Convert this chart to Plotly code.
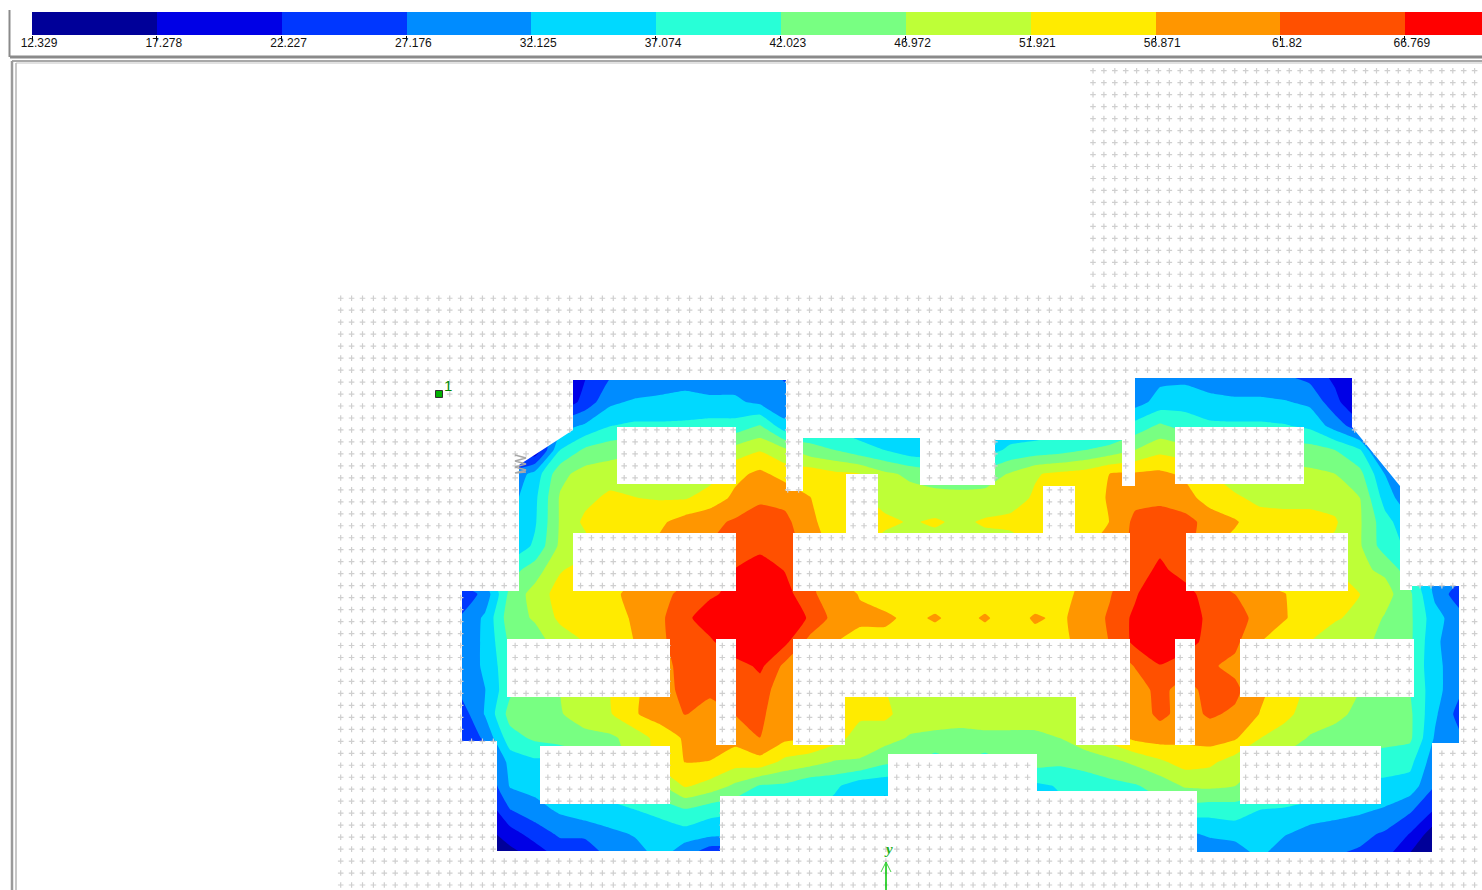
import numpy as np
import plotly.graph_objects as go

# legend levels (band boundaries) and printed tick labels
levels = [12.329, 17.278, 22.227, 27.176, 32.125, 37.074, 42.023, 46.972, 51.921, 56.871, 61.82, 66.769, 71.718]
tick_labels = ["12.329", "17.278", "22.227", "27.176", "32.125", "37.074", "42.023", "46.972", "51.921", "56.871", "61.82", "66.769"]
band_colors = ["#000099", "#0000E6", "#0037FF", "#008CFF", "#00D9FF", "#28FFD7",
               "#78FF82", "#BEFF37", "#FFEB00", "#FF9600", "#FF5000", "#FF0000"]
band_mid = [14.8, 19.75, 24.7, 29.65, 34.6, 39.55, 44.5, 49.45, 54.4, 59.35, 64.3, 69.2]

# sampling stations of the contour field (model coordinates)
xs = [460, 485, 510, 535, 560, 585, 610, 635, 660, 685, 710, 735, 760, 785, 810, 835, 860, 885, 910, 935, 960,
      985, 1010, 1035, 1060, 1085, 1110, 1135, 1160, 1185, 1210, 1235, 1260, 1285, 1310, 1335, 1360, 1385, 1410, 1435, 1460]
ys = [378, 402, 426, 450, 474, 498, 522, 546, 570, 594, 618, 642, 666, 690, 714, 738, 762, 786, 810, 834, 858]

r378 = [20,20,20,20,20,22,27,27,30,30,30,30,28,27,30,32,33,33,33,33,33,34,34,34,33,32,31,29,31,31,29,29,29,28,26,21,18,18,18,18,18]
r402 = [20,20,20,20,18,24,31,33,33,34,33,33,31,28,33,33,34,34,34,34,34,34,34,34,34,33,32,30,34,35,34,33,33,32.5,31,24,16,16,16,16,16]
r426 = [22,22,22,22,30,33,37,38,38,38,39,39,42.5,34,37,36,34,34,34,34,34,34,34,34,35,35,35,39,43,40,38,38,38,37.5,36,30,24,22,20,20,20]
r450 = [22,22,22,18,37,43,45,46,46,47,47,49,51.5,48,44,42,39,37,34,33.5,33.5,35,38,39,40,42,44,47,50.5,49,46,45,45,44.5,44,42,37.5,22,22,20,20]
r474 = [22,24,28,34,45.5,49,49.5,50,50,50,50,55.5,58,55,55,53,52,48,46,44,43,44,47.5,51.5,53,54,57,57.5,58,56,52,50,49,48.5,48,47,43.5,32,25,20,20]
r498 = [24,26,30,36,47.5,50.5,53,52,51.5,51.5,54,58,61,60.5,57,54,53,50,49,49,49,49,50,52.5,53.5,54,57.5,60.5,60.5,59,54.5,52.5,51,51,51,50,47,35,28,22,22]
r522 = [26,28,31,36.5,47.5,53,55,55.5,56,59,60.5,62.5,64,63,58.5,53,52,53,51.5,52.5,51,52.5,53,52,53.5,54,57,63,64.5,63.5,60,57.5,53.5,53,53,52.5,47.5,39,33,25,25]
r546 = [28,30,33,38,48,50,56,56,58,60,62,63.5,65,64,60,55,53,50,50,50,50,50,50,52,54,56,59,63,65.5,64,58,55,53,53,52.5,51,47.5,39.5,36,28,28]
r570 = [34,36,40,44.5,51.5,54,56,56,58,60,62,67,70,66.5,62,56,54,54,54,54,54,54,54,54,55,57,60,64,68,64.5,60,57,54,54,53,52,48,46,39,30,30]
r594 = [23,29,43.5,49,54,55,56,58,60.5,63,65.5,69,72,69,62.5,60,56.5,54,54,54,54,54,54,54,55.5,58,61.5,66,72,69,64,61.8,59,57,54,55,52,49,43,31,24]
r618 = [27.5,33,45,47.5,53,55,55,57.5,61,65,71,74,74,71,66,60,58,58,55.5,57.5,55,57.5,54.5,57.5,56,59,62.5,68,74,72,64.5,64,60,57.2,54,52.5,50.5,46.5,43,34,29]
r642 = [28.5,33,43,45,49,52,54,57,61,64,65.5,72,73,68,60,57,55,55,55,54,54,54,54,55,56,58,62,68,71,69,65,63,57,54,52,49,48,46,43,33,29]
r666 = [28.5,33,41,45,47,50,53,56,60,63.5,64,64,68,60.5,58,55,53,52,52,52,52,52,52,53,54,56,59,62,66.5,64,62.5,60.5,56,54,52,50,48,46,41,34,28]
r690 = [28,32,41,44.5,47,50,52,56,60,63,62.5,63,64,59,57,55,54,52,51,51,51,51,51,51,52,54,57,60,63,60,63.5,63,58,54,51,49,47,45,42,34,28]
r714 = [24,32.5,44,46,46.5,50,51.5,56.5,59,62,60.5,62,63,58,55,54,53,53,49.5,49,49,49,49,49,49,50,54,59,63,60,62.5,61,56.7,53,50,48,46,45,43,33,25]
r738 = [23,28,40,43,44.5,45,46,49,54,57.5,58,58.5,61.8,58,57,54,49.5,49,46.5,46,45.5,46,46,46,47,50,54,58,59,58,59,57.5,52,50,46.5,45.5,45,44,43,31.5,28]
r762 = [18,22,34,36,36,40,45,48,54,57,56.8,54,55,50.5,49,46.5,46.5,43,43,39.5,42,39.5,43,44,43,44,45.5,48,51,54,53,49.5,47,45,44,42,40,39,38.5,29,26]
r786 = [18,22,32.5,34,36,38,40,43,46,52.5,50,46,41.5,41,38,38,34,33.5,32,33,34,35,35,36,37.5,39,40.5,41.5,44,47.5,48,47,45,42,40,38,36,36,35,27,25]
r810 = [16,18,27,30,33,35,35.5,37,39,41.5,39,38,38,38,38,35,33,30,36,36,36,36,36,36,36,36,38,39,40,40,39,39.5,37,36.5,35.5,34,33,31.5,28,22,20]
r834 = [14,15,20,24.5,28,28.5,31,32.5,33.5,35,33.5,33,33,33,33,33,33,33,33,33,33,33,33,33,33,33,33,33,33,31,33,34,33,32.5,30,29.5,28.5,26.5,22,14,14]
r858 = [12,12,14.4,18,23,22,28,30,33,27,21,22,25,25,25,25,25,25,25,25,25,25,25,25,25,25,25,25,25,27,27.4,28,32.5,27,28,27,26,23,16,12,12]
z_field = [r378, r402, r426, r450, r474, r498, r522, r546, r570, r594, r618, r642, r666, r690, r714, r738, r762, r786, r810, r834, r858]

# plate outline and openings (model geometry)
outline = [(573, 380), (786, 380), (786, 491), (803, 491), (803, 438), (920, 438), (920, 485), (995, 485), (995, 440),
           (1122, 440), (1122, 486), (1135, 486), (1135, 378), (1352, 378), (1352, 427), (1400, 486), (1400, 590),
           (1412, 590), (1412, 586), (1459, 586), (1459, 743), (1432, 743), (1432, 852), (1197, 852), (1197, 791),
           (1037, 791), (1037, 754), (888, 754), (888, 796), (720, 796), (720, 851), (497, 851), (497, 741), (462, 741),
           (462, 591), (519, 591), (519, 465), (573, 430)]
holes = [
    [(617, 427), (736, 427), (736, 484), (617, 484)],
    [(846, 474), (878, 474), (878, 533), (846, 533)],
    [(1043, 486), (1075, 486), (1075, 533), (1043, 533)],
    [(1175, 427), (1304, 427), (1304, 484), (1175, 484)],
    [(573, 533), (736, 533), (736, 591), (573, 591)],
    [(793, 533), (1130, 533), (1130, 591), (793, 591)],
    [(1186, 533), (1348, 533), (1348, 591), (1186, 591)],
    [(507, 639), (670, 639), (670, 697), (507, 697)],
    [(716, 639), (736, 639), (736, 745), (716, 745)],
    [(793, 639), (1130, 639), (1130, 745), (1076, 745), (1076, 697), (845, 697), (845, 745), (793, 745)],
    [(1175, 639), (1195, 639), (1195, 745), (1175, 745)],
    [(1240, 639), (1414, 639), (1414, 697), (1240, 697)],
    [(540, 746), (670, 746), (670, 804), (540, 804)],
    [(1240, 746), (1381, 746), (1381, 804), (1240, 804)],
]


def inside(px, py, poly):
    c = False
    n = len(poly)
    for i in range(n):
        x1, y1 = poly[i]
        x2, y2 = poly[(i + 1) % n]
        if (y1 > py) != (y2 > py) and px < (x2 - x1) * (py - y1) / (y2 - y1) + x1:
            c = not c
    return c


def on_plate(px, py):
    return inside(px, py, outline) and not any(inside(px, py, h) for h in holes)


# mask: everything round the plate, plus the openings
frame = [(455, 370), (455, 862), (1465, 862), (1465, 370), (455, 370)]
mx, my = [], []
for px, py in frame + [outline[0]] + outline + [outline[0]] + [frame[0]]:
    mx.append(px); my.append(py)
for h in holes:
    mx.append(None); my.append(None)
    for px, py in h + [h[0]]:
        mx.append(px); my.append(py)

# background node mesh
cx, cy = [], []
for j in range(69):
    gy = 70.7 + 11.975 * j
    for i in range(106):
        gx = 340.7 + 10.903 * i
        if gy < 290 and gx < 1090:
            continue
        if gx > 1482 or gy > 890:
            continue
        if not on_plate(gx, gy):
            cx.append(gx); cy.append(gy)

n = len(band_colors)
cscale = []
for i, c in enumerate(band_colors):
    cscale += [[i / n, c], [(i + 1) / n, c]]

fig = go.Figure()
fig.add_trace(go.Contour(
    x=xs, y=ys, z=z_field, colorscale=cscale, showscale=False,
    autocontour=False, contours=dict(start=levels[0], end=71.8, size=4.9491, coloring="fill", showlines=False),
    line=dict(width=0, smoothing=0.4), hoverinfo="skip"))
fig.add_trace(go.Scatter(x=mx, y=my, mode="lines", fill="toself", fillcolor="white",
                         line=dict(width=0, color="white"), hoverinfo="skip"))
fig.add_trace(go.Scatter(x=cx, y=cy, mode="markers", hoverinfo="skip",
                         marker=dict(symbol="cross-thin", size=4, line=dict(color="#cfcfcf", width=1.2))))
# node 1 and support symbol
fig.add_trace(go.Scatter(x=[439], y=[394], mode="markers", hoverinfo="skip",
                         marker=dict(symbol="square", size=7, color="#00B000", line=dict(color="#303030", width=1))))
fig.add_trace(go.Scatter(x=[515, 526, 515, 526, 515, 526, 515, 526], y=[455, 458, 461, 464, 467, 470, 473, 472],
                         mode="lines", hoverinfo="skip", line=dict(color="#a8a8a8", width=1.5)))
# global y axis arrow
fig.add_trace(go.Scatter(x=[886, 886], y=[890, 862], mode="lines", hoverinfo="skip", line=dict(color="#00C800", width=1.5)))
fig.add_trace(go.Scatter(x=[881, 886, 891], y=[872, 862, 872], mode="lines", hoverinfo="skip", line=dict(color="#40D040", width=1)))
# legend bar on its own value axis
fig.add_trace(go.Heatmap(x=levels, y=[0, 1], z=[band_mid], zmin=levels[0], zmax=levels[-1], colorscale=cscale,
                         showscale=False, xaxis="x2", yaxis="y2", hoverinfo="skip"))

frame_lines = [
    (9.5, 10, 9.5, 57, "#8a8a8a", 2),
    (10, 57, 1482, 57, "#8a8a8a", 3),
    (12, 61, 1482, 61, "#a8a8a8", 2),
    (12, 61, 12, 890, "#9a9a9a", 2.5),
    (16, 63, 1482, 63, "#c4c4c4", 1),
    (16, 63, 16, 890, "#b4b4b4", 1.5),
]
shapes = [dict(type="line", xref="x", yref="y", x0=a, y0=b, x1=c, y1=d, line=dict(color=col, width=w), layer="above")
          for a, b, c, d, col, w in frame_lines]

fig.update_layout(
    width=1482, height=890, margin=dict(l=0, r=0, t=0, b=0, autoexpand=False), paper_bgcolor="white", plot_bgcolor="white",
    showlegend=False, shapes=shapes,
    font=dict(family="Liberation Sans", size=12, color="black"),
    xaxis=dict(range=[0, 1482], domain=[0, 1], visible=False, fixedrange=True),
    yaxis=dict(range=[890, 0], domain=[0, 1], visible=False, fixedrange=True),
    xaxis2=dict(range=[12.329, 69.83], domain=[32 / 1482, 1], anchor="y2", tickmode="array", tickvals=levels[:-1],
                ticktext=tick_labels, ticks="outside", ticklen=5, tickwidth=1, tickcolor="black", showgrid=False,
                zeroline=False, showline=False, ticklabelshift=7, ticklabelstandoff=-8, fixedrange=True, automargin=False,
                tickfont=dict(family="Liberation Sans", size=12, color="#111111")),
    yaxis2=dict(range=[0, 1], domain=[1 - 35 / 890, 1 - 12 / 890], anchor="x2", visible=False, fixedrange=True),
    annotations=[
        dict(x=447.5, y=385.5, text="1", showarrow=False, xref="x", yref="y",
             font=dict(family="Liberation Sans", size=15, color="#008A00")),
        dict(x=888, y=849, text="<i><b>y</b></i>", showarrow=False, xref="x", yref="y",
             font=dict(family="Liberation Serif", size=15, color="#20B020")),
    ],
)
fig.write_html("out.html", config=dict(displayModeBar=False), post_script="document.body.style.margin='0';")
